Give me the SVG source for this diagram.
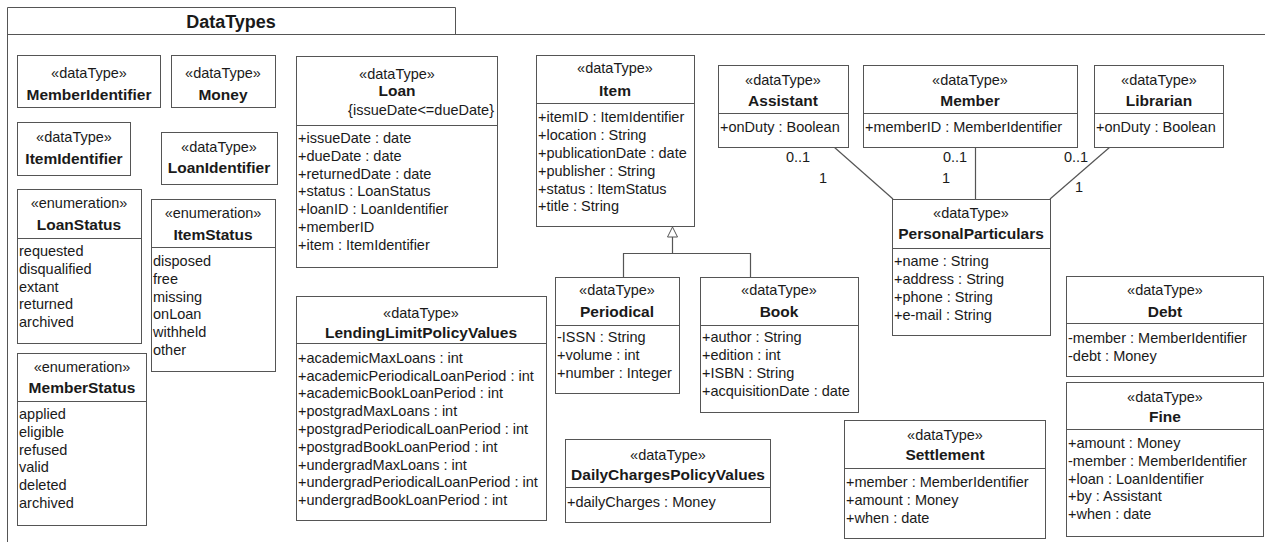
<svg xmlns="http://www.w3.org/2000/svg" width="1265" height="542" viewBox="0 0 1265 542">
<style>
.bx{fill:#fff;stroke:#555;stroke-width:1}
.dv{stroke:#555;stroke-width:1}
text{font-family:"Liberation Sans",Arial,sans-serif;fill:#1a1a1a}
.st{font-size:14.5px;text-anchor:middle}
.nm{font-size:15.5px;font-weight:bold;text-anchor:middle}
.at{font-size:14.5px}
.ln{stroke:#555;stroke-width:1.2;fill:none}
.lb{font-size:14.5px;text-anchor:middle}
</style>
<rect width="1265" height="542" fill="#fff"/>
<g id="frame">
<path class="dv" d="M7.5 542V7.5H455.5V34.5M7.5 34.5H1265" fill="none"/>
<text x="231" y="28" style="font-size:18px;font-weight:bold;text-anchor:middle">DataTypes</text>
</g>
<g id="connectors">
<path class="ln" d="M834 147L893 199"/>
<path class="ln" d="M975.5 147V199"/>
<path class="ln" d="M1110 147L1050 199"/>
<path class="ln" d="M623.5 277V253.5H750.5V277M672.5 253.5V237"/>
<path d="M672.5 227L667.5 237H677.5Z" fill="#fff" stroke="#555" stroke-width="1"/>
<text class="lb" x="798" y="162">0..1</text>
<text class="lb" x="823" y="183">1</text>
<text class="lb" x="955" y="162">0..1</text>
<text class="lb" x="946" y="183">1</text>
<text class="lb" x="1076" y="162">0..1</text>
<text class="lb" x="1079" y="192">1</text>
</g>
<g id="MemberIdentifier">
<rect class="bx" x="17.5" y="55.5" width="143" height="52"/>
<text class="st" x="89" y="78">«dataType»</text>
<text class="nm" x="89" y="100">MemberIdentifier</text>
</g>
<g id="Money">
<rect class="bx" x="171.5" y="55.5" width="104" height="52"/>
<text class="st" x="223" y="78">«dataType»</text>
<text class="nm" x="223" y="100">Money</text>
</g>
<g id="ItemIdentifier">
<rect class="bx" x="17.5" y="122.5" width="113" height="53"/>
<text class="st" x="74" y="142">«dataType»</text>
<text class="nm" x="74" y="164">ItemIdentifier</text>
</g>
<g id="LoanIdentifier">
<rect class="bx" x="161.5" y="132.5" width="116" height="52"/>
<text class="st" x="219" y="152">«dataType»</text>
<text class="nm" x="219" y="173">LoanIdentifier</text>
</g>
<g id="LoanStatus">
<rect class="bx" x="17.5" y="189.5" width="124" height="154"/>
<line class="dv" x1="17" y1="238.5" x2="141" y2="238.5"/>
<text class="st" x="79" y="208">«enumeration»</text>
<text class="nm" x="79" y="230">LoanStatus</text>
<text class="at" x="19" y="256">requested</text>
<text class="at" x="19" y="274">disqualified</text>
<text class="at" x="19" y="292">extant</text>
<text class="at" x="19" y="309">returned</text>
<text class="at" x="19" y="327">archived</text>
</g>
<g id="ItemStatus">
<rect class="bx" x="151.5" y="199.5" width="124" height="172"/>
<line class="dv" x1="151" y1="247.5" x2="275" y2="247.5"/>
<text class="st" x="213" y="218">«enumeration»</text>
<text class="nm" x="213" y="240">ItemStatus</text>
<text class="at" x="153" y="266">disposed</text>
<text class="at" x="153" y="284">free</text>
<text class="at" x="153" y="302">missing</text>
<text class="at" x="153" y="319">onLoan</text>
<text class="at" x="153" y="337">withheld</text>
<text class="at" x="153" y="355">other</text>
</g>
<g id="MemberStatus">
<rect class="bx" x="17.5" y="353.5" width="129" height="172"/>
<line class="dv" x1="17" y1="401.5" x2="146" y2="401.5"/>
<text class="st" x="82" y="372">«enumeration»</text>
<text class="nm" x="82" y="393">MemberStatus</text>
<text class="at" x="19" y="419">applied</text>
<text class="at" x="19" y="437">eligible</text>
<text class="at" x="19" y="455">refused</text>
<text class="at" x="19" y="472">valid</text>
<text class="at" x="19" y="490">deleted</text>
<text class="at" x="19" y="508">archived</text>
</g>
<g id="Loan">
<rect class="bx" x="296.5" y="56.5" width="201" height="211"/>
<line class="dv" x1="296" y1="125.5" x2="497" y2="125.5"/>
<text class="st" x="397" y="79">«dataType»</text>
<text class="nm" x="397" y="96">Loan</text>
<text class="at" x="494" y="115" text-anchor="end">{issueDate&lt;=dueDate}</text>
<text class="at" x="298" y="143">+issueDate : date</text>
<text class="at" x="298" y="161">+dueDate : date</text>
<text class="at" x="298" y="179">+returnedDate : date</text>
<text class="at" x="298" y="196">+status : LoanStatus</text>
<text class="at" x="298" y="214">+loanID : LoanIdentifier</text>
<text class="at" x="298" y="232">+memberID</text>
<text class="at" x="298" y="250">+item : ItemIdentifier</text>
</g>
<g id="LendingLimitPolicyValues">
<rect class="bx" x="296.5" y="296.5" width="250" height="224"/>
<line class="dv" x1="296" y1="343.5" x2="546" y2="343.5"/>
<text class="st" x="421" y="318">«dataType»</text>
<text class="nm" x="421" y="338">LendingLimitPolicyValues</text>
<text class="at" x="298" y="363">+academicMaxLoans : int</text>
<text class="at" x="298" y="381">+academicPeriodicalLoanPeriod : int</text>
<text class="at" x="298" y="398">+academicBookLoanPeriod : int</text>
<text class="at" x="298" y="416">+postgradMaxLoans : int</text>
<text class="at" x="298" y="434">+postgradPeriodicalLoanPeriod : int</text>
<text class="at" x="298" y="452">+postgradBookLoanPeriod : int</text>
<text class="at" x="298" y="470">+undergradMaxLoans : int</text>
<text class="at" x="298" y="487">+undergradPeriodicalLoanPeriod : int</text>
<text class="at" x="298" y="505">+undergradBookLoanPeriod : int</text>
</g>
<g id="Item">
<rect class="bx" x="536.5" y="55.5" width="158" height="171"/>
<line class="dv" x1="536" y1="103.5" x2="694" y2="103.5"/>
<text class="st" x="615" y="73">«dataType»</text>
<text class="nm" x="615" y="96">Item</text>
<text class="at" x="538" y="122">+itemID : ItemIdentifier</text>
<text class="at" x="538" y="140">+location : String</text>
<text class="at" x="538" y="158">+publicationDate : date</text>
<text class="at" x="538" y="176">+publisher : String</text>
<text class="at" x="538" y="194">+status : ItemStatus</text>
<text class="at" x="538" y="211">+title : String</text>
</g>
<g id="Periodical">
<rect class="bx" x="555.5" y="277.5" width="124" height="116"/>
<line class="dv" x1="555" y1="325.5" x2="679" y2="325.5"/>
<text class="st" x="617" y="295">«dataType»</text>
<text class="nm" x="617" y="317">Periodical</text>
<text class="at" x="557" y="342">-ISSN : String</text>
<text class="at" x="557" y="360">+volume : int</text>
<text class="at" x="557" y="378">+number : Integer</text>
</g>
<g id="Book">
<rect class="bx" x="700.5" y="277.5" width="158" height="135"/>
<line class="dv" x1="700" y1="325.5" x2="858" y2="325.5"/>
<text class="st" x="779" y="295">«dataType»</text>
<text class="nm" x="779" y="317">Book</text>
<text class="at" x="702" y="342">+author : String</text>
<text class="at" x="702" y="360">+edition : int</text>
<text class="at" x="702" y="378">+ISBN : String</text>
<text class="at" x="702" y="396">+acquisitionDate : date</text>
</g>
<g id="DailyChargesPolicyValues">
<rect class="bx" x="565.5" y="439.5" width="205" height="83"/>
<line class="dv" x1="565" y1="487.5" x2="770" y2="487.5"/>
<text class="st" x="668" y="460">«dataType»</text>
<text class="nm" x="668" y="480">DailyChargesPolicyValues</text>
<text class="at" x="567" y="507">+dailyCharges : Money</text>
</g>
<g id="Assistant">
<rect class="bx" x="718.5" y="65.5" width="130" height="82"/>
<line class="dv" x1="718" y1="113.5" x2="848" y2="113.5"/>
<text class="st" x="783" y="85">«dataType»</text>
<text class="nm" x="783" y="106">Assistant</text>
<text class="at" x="720" y="132">+onDuty : Boolean</text>
</g>
<g id="Member">
<rect class="bx" x="863.5" y="65.5" width="214" height="82"/>
<line class="dv" x1="863" y1="113.5" x2="1077" y2="113.5"/>
<text class="st" x="970" y="85">«dataType»</text>
<text class="nm" x="970" y="106">Member</text>
<text class="at" x="865" y="132">+memberID : MemberIdentifier</text>
</g>
<g id="Librarian">
<rect class="bx" x="1094.5" y="65.5" width="129" height="82"/>
<line class="dv" x1="1094" y1="113.5" x2="1223" y2="113.5"/>
<text class="st" x="1159" y="85">«dataType»</text>
<text class="nm" x="1159" y="106">Librarian</text>
<text class="at" x="1096" y="132">+onDuty : Boolean</text>
</g>
<g id="PersonalParticulars">
<rect class="bx" x="892.5" y="199.5" width="158" height="136"/>
<line class="dv" x1="892" y1="248.5" x2="1050" y2="248.5"/>
<text class="st" x="971" y="218">«dataType»</text>
<text class="nm" x="971" y="239">PersonalParticulars</text>
<text class="at" x="894" y="266">+name : String</text>
<text class="at" x="894" y="284">+address : String</text>
<text class="at" x="894" y="302">+phone : String</text>
<text class="at" x="894" y="320">+e-mail : String</text>
</g>
<g id="Debt">
<rect class="bx" x="1066.5" y="276.5" width="197" height="100"/>
<line class="dv" x1="1066" y1="323.5" x2="1263" y2="323.5"/>
<text class="st" x="1165" y="295">«dataType»</text>
<text class="nm" x="1165" y="317">Debt</text>
<text class="at" x="1068" y="343">-member : MemberIdentifier</text>
<text class="at" x="1068" y="361">-debt : Money</text>
</g>
<g id="Fine">
<rect class="bx" x="1066.5" y="382.5" width="197" height="154"/>
<line class="dv" x1="1066" y1="429.5" x2="1263" y2="429.5"/>
<text class="st" x="1165" y="402">«dataType»</text>
<text class="nm" x="1165" y="422">Fine</text>
<text class="at" x="1068" y="448">+amount : Money</text>
<text class="at" x="1068" y="466">-member : MemberIdentifier</text>
<text class="at" x="1068" y="484">+loan : LoanIdentifier</text>
<text class="at" x="1068" y="501">+by : Assistant</text>
<text class="at" x="1068" y="519">+when : date</text>
</g>
<g id="Settlement">
<rect class="bx" x="844.5" y="420.5" width="201" height="118"/>
<line class="dv" x1="844" y1="468.5" x2="1045" y2="468.5"/>
<text class="st" x="945" y="440">«dataType»</text>
<text class="nm" x="945" y="460">Settlement</text>
<text class="at" x="846" y="487">+member : MemberIdentifier</text>
<text class="at" x="846" y="505">+amount : Money</text>
<text class="at" x="846" y="523">+when : date</text>
</g>
</svg>
